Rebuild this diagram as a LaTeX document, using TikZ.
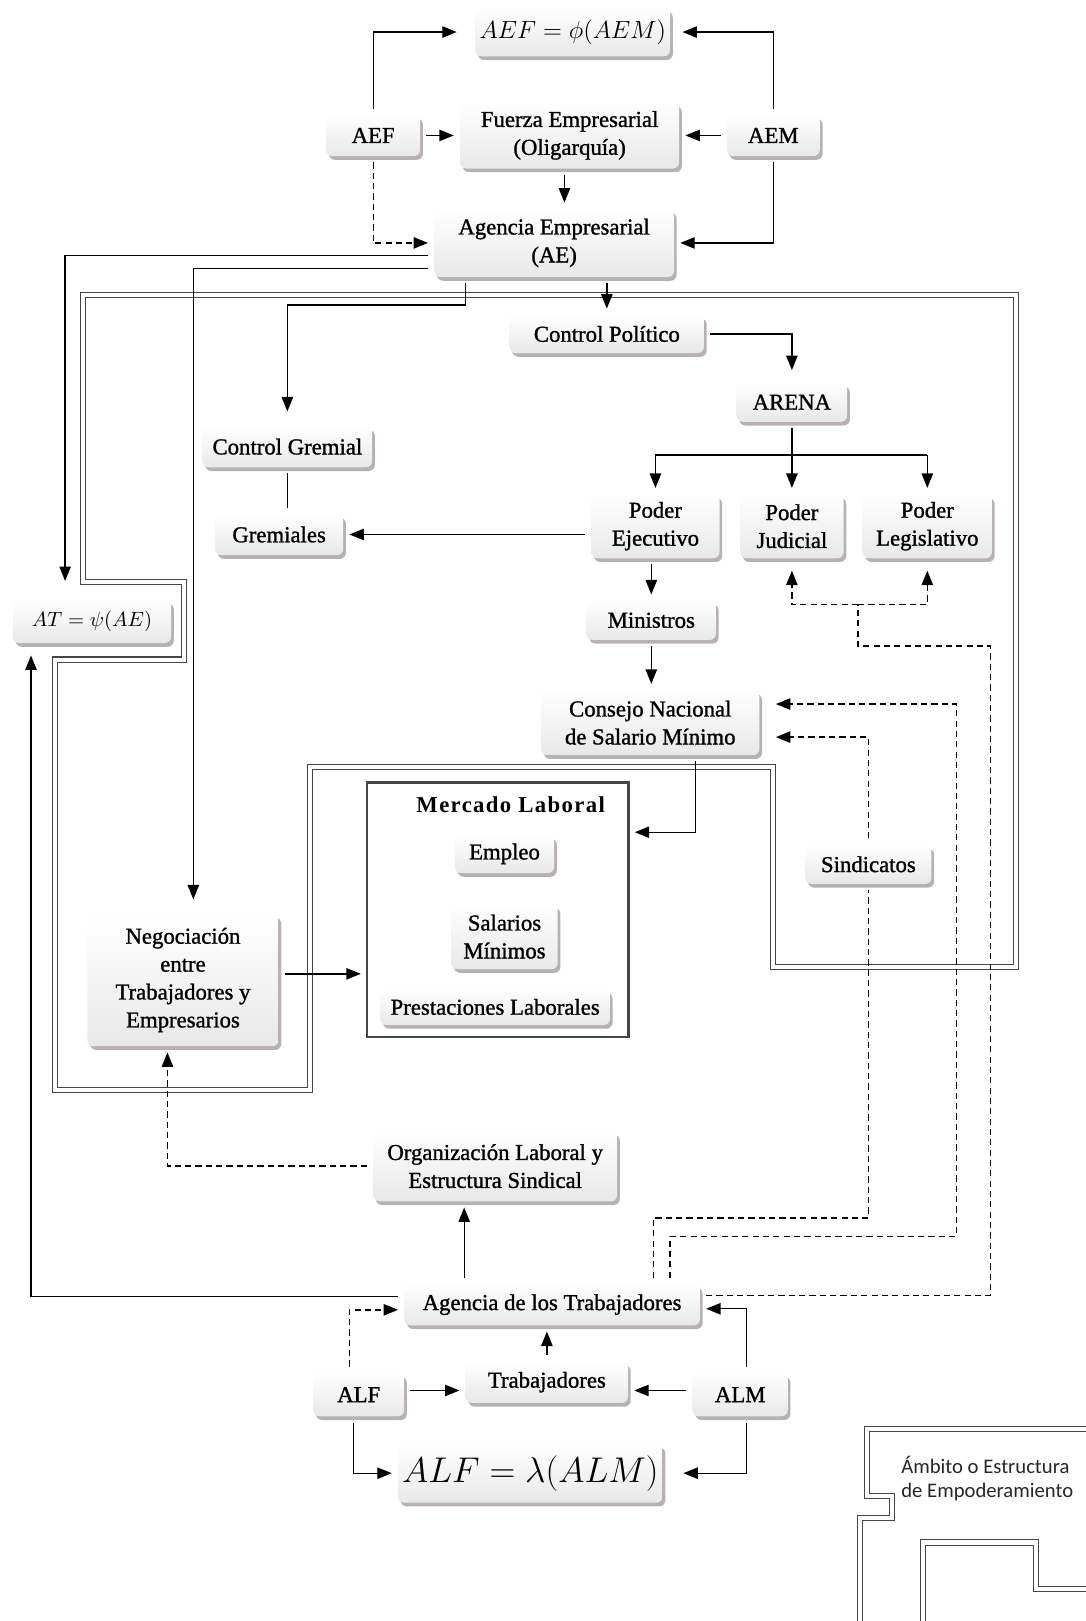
\documentclass[tikz,border=0pt]{standalone}
\usepackage{fontspec}
\setmainfont{Liberation Serif}
\newfontfamily\legendfont{Carlito}
\usetikzlibrary{arrows.meta,shadows}
\definecolor{sombra}{RGB}{172,162,166}
\definecolor{marco}{RGB}{70,70,70}

\begin{document}
\begin{tikzpicture}[x=0.5pt, y=-0.5pt, line width=0.65pt,
    >={Triangle[length=7pt,width=5.5pt]},
    every node/.style={font=\fontsize{11}{13.5}\selectfont\addfontfeature{FakeBold=1.2}},
    caja/.style={rounded corners=3pt, top color=white, bottom color=black!9,
      drop shadow={shadow xshift=1.3pt, shadow yshift=-1.8pt, fill=sombra, opacity=0.85},
      align=center, inner sep=2pt, outer sep=3pt},
    punteada/.style={dash pattern=on 3pt off 2pt},
    ambito/.style={draw=marco, line width=0.5pt, double=white, double distance=2pt}]
  \useasboundingbox (0,0) rectangle (1050,1568);
  % Ambito o estructura de empoderamiento
  \draw[ambito] (80,285) -- (983,285) -- (983,935) -- (748,935) -- (748,742) -- (300,742)
    -- (300,1054) -- (53,1054) -- (53,638) -- (178,638) -- (178,563) -- (80,563) -- cycle;
  % Empresarios
  \node[caja, minimum width=91pt, minimum height=23.5pt, font=\fontsize{12}{14}\selectfont] (fae) at (554,31) {$AEF=\phi(AEM)$};
  \node[caja, minimum width=45.5pt, minimum height=20pt] (aef) at (361,131) {AEF};
  \node[caja, minimum width=45pt, minimum height=20pt] (aem) at (748,131) {AEM};
  \node[caja, minimum width=106pt, minimum height=32pt] (fuerza) at (551,131) {Fuerza Empresarial\\(Oligarquía)};
  \node[caja, minimum width=116pt, minimum height=33pt] (ae) at (536,235) {Agencia Empresarial\\(AE)};
  \node[caja, minimum width=94pt, minimum height=18.5pt] (cpol) at (587,323) {Control Político};
  \node[caja, minimum width=53.5pt, minimum height=19pt] (arena) at (766,389) {ARENA};
  \node[caja, minimum width=82pt, minimum height=20pt] (cgrem) at (278,432) {Control Gremial};
  \node[caja, minimum width=62pt, minimum height=20pt] (grem) at (270,517) {Gremiales};
  \node[caja, minimum width=62pt, minimum height=31pt] (pe) at (634,509) {Poder\\Ejecutivo};
  \node[caja, minimum width=50pt, minimum height=31pt] (pj) at (766,509) {Poder\\Judicial};
  \node[caja, minimum width=62.5pt, minimum height=31pt] (pl) at (897,509) {Poder\\Legislativo};
  \node[caja, minimum width=62.5pt, minimum height=19pt] (min) at (630,600) {Ministros};
  \node[caja, minimum width=105.5pt, minimum height=31.5pt] (cnsm) at (629,699) {Consejo Nacional\\de Salario Mínimo};
  \node[caja, minimum width=76.5pt, minimum height=21pt, font=\fontsize{10}{12}\selectfont] (at) at (89,601) {$AT=\psi(AE)$};
  % Mercado laboral
  \node[draw=marco, line width=1.1pt, minimum width=126.5pt, minimum height=123pt, outer sep=3pt] (merc) at (481.5,880) {};
  \node[font=\bfseries\fontsize{11}{13}\selectfont\addfontfeature{LetterSpace=6}] (mltit) at (494,778) {Mercado Laboral};
  \node[caja, minimum width=48pt, minimum height=18.5pt] (empleo) at (488,826) {Empleo};
  \node[caja, minimum width=51.5pt, minimum height=31.5pt] (sal) at (488,906) {Salarios\\Mínimos};
  \node[caja, minimum width=111pt, minimum height=17.5pt] (prest) at (479,974) {Prestaciones Laborales};
  \node[caja, minimum width=61pt, minimum height=19pt] (sind) at (840,836) {Sindicatos};
  \node[caja, minimum width=92.5pt, minimum height=64pt] (neg) at (177,948) {Negociación\\entre\\Trabajadores y\\Empresarios};
  % Trabajadores
  \node[caja, minimum width=118pt, minimum height=34pt] (org) at (479,1128) {Organización Laboral y\\Estructura Sindical};
  \node[caja, minimum width=143pt, minimum height=20pt] (agt) at (534,1262) {Agencia de los Trabajadores};
  \node[caja, minimum width=78.5pt, minimum height=20pt] (trab) at (529,1337) {Trabajadores};
  \node[caja, minimum width=44pt, minimum height=21pt] (alf) at (347,1349) {ALF};
  \node[caja, minimum width=46pt, minimum height=21pt] (alm) at (716,1349) {ALM};
  \node[caja, minimum width=123.5pt, minimum height=28.5pt, font=\fontsize{16}{18}\selectfont] (fal) at (513,1425) {$ALF=\lambda(ALM)$};
  % Leyenda
  \draw[ambito] (1050,1382) -- (839,1382) -- (839,1447) -- (863,1447) -- (863,1468) -- (832,1468) -- (832,1568);
  \draw[ambito] (893,1568) -- (893,1492) -- (1002,1492) -- (1002,1537) -- (1050,1537);
  \node[font=\legendfont\fontsize{10}{11.5}\selectfont, align=left, text=black!85] (leyenda) at (955,1430) {Ámbito o Estructura\\de Empoderamiento};

  % Ecuacion empresarial
  \draw[->, shorten >=6pt] (aef.north) |- (fae.west);
  \draw[->, shorten >=3pt] (aem.north) |- (fae.east);
  \draw[->] (aef) -- (fuerza);
  \draw[->] (aem) -- (fuerza);
  \draw[->] ([xshift=-2.5pt]fuerza.south) -- ([xshift=-2.5pt]fuerza.south |- ae.north);
  \draw[->, punteada] (aef.south) |- (ae.west);
  \draw[->] (aem.south) |- (ae.east);
  % Salidas de la Agencia Empresarial
  \draw[->, shorten >=6pt] ([yshift=-6pt]ae.west) -| ([xshift=-13pt]at.north);
  \draw[->, shorten >=4pt] ([yshift=-12.5pt]ae.west) -| ([xshift=5pt]neg.north);
  \draw[->, shorten >=4pt] ([xshift=-43pt]ae.south) -- ++(0,21) -| (cgrem.north);
  \draw[->] (ae.south -| cpol.north) -- (cpol.north);
  \draw[->, shorten >=3pt] (cpol.east) -| (arena.north);
  % ARENA y los poderes
  \draw (arena.south) -- ++(0,26) coordinate (rama);
  \draw (rama -| pe.north) -- (rama -| pl.north);
  \foreach \p in {pe,pj,pl}
    \draw[->] (rama -| \p.north) -- (\p.north);
  \draw (cgrem.south) -- (cgrem.south |- grem.north);
  \draw[->] (pe.west |- grem.east) -- (grem.east);
  \draw[->] (pe.south -| min.north) -- (min.north);
  \draw[->] (min.south) -- (min.south |- cnsm.north);
  \draw[->] ([xshift=22pt]cnsm.south) |- ([yshift=37.5pt]merc.east);
  \draw[->] ([yshift=3pt]neg.east) -- ([yshift=3pt]neg.east -| merc.west);
  % Trabajadores
  \draw[->, punteada] (org.west) -| ([xshift=-7.5pt]neg.south);
  \draw[->] ([xshift=-15pt]org.south |- agt.north) -- ([xshift=-15pt]org.south);
  \draw[->, shorten >=3pt] ([yshift=4pt]agt.west) -| ([xshift=-29.5pt]at.south);
  \draw[->, punteada] ([xshift=-4.5pt]alf.north) |- ([yshift=-2.5pt]agt.west);
  \draw[->] ([xshift=3pt]alm.north) |- ([yshift=-2pt]agt.east);
  \draw[->] (trab.north) -- (trab.north |- agt.south);
  \draw[->] ([yshift=2pt]alf.east) -- ([yshift=2pt]alf.east -| trab.west);
  \draw[->] ([yshift=2pt]alm.west) -- ([yshift=2pt]alm.west -| trab.east);
  \draw[->] ([xshift=-2.5pt]alf.south) |- (fal.west);
  \draw[->, shorten >=7pt] ([xshift=3pt]alm.south) |- (fal.east);
  % Sindicatos y presion sobre el Estado
  \draw[punteada] ([xshift=49pt]agt.north) -- ++(0,-58) -| (sind.south);
  \draw[->, punteada, shorten >=5pt] (sind.north) |- ([yshift=-7pt]cnsm.east);
  \draw[->, punteada, shorten >=5pt] ([xshift=57pt]agt.north) -- ++(0,-40) -- ++(277,0) |- ([yshift=9pt]cnsm.east);
  \draw[punteada] ([yshift=4.5pt]agt.east) -- ++(275,0) -- ++(0,-628) -- ++(-128,0) -- ++(0,-40) coordinate (jp);
  \foreach \p in {pj,pl}
    \draw[->, punteada, shorten >=3pt] (jp) -| (\p.south);
\end{tikzpicture}
\end{document}
